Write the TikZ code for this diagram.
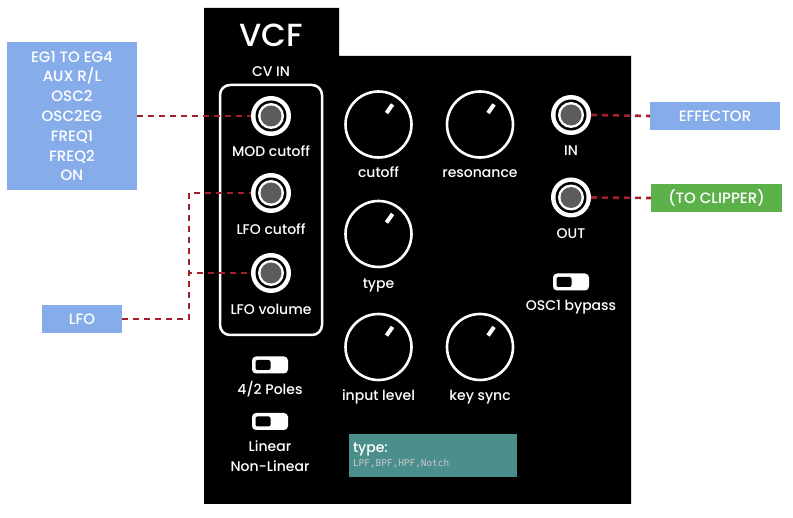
\documentclass[tikz,border=0pt]{standalone}
\usepackage{fontspec}
\setmainfont{Poppins}[UprightFont=* Medium]
\setmonofont{DejaVu Sans Mono}
\usepackage{tikz}
\usetikzlibrary{positioning,calc}
\definecolor{cvblue}{HTML}{86ADEA}
\definecolor{cvgreen}{HTML}{5DB14A}
\definecolor{patchred}{HTML}{A3202F}
\definecolor{jackgray}{HTML}{5C5C5C}
\definecolor{infoteal}{HTML}{4A8F8C}
\definecolor{monogray}{HTML}{C9C9C9}

\begin{document}
\begin{tikzpicture}[
  x=1pt, y=-1pt,
  every node/.style={font=\fontsize{14}{16}\selectfont, text=white, outer sep=0pt},
  lbl/.style={inner sep=0pt, text height=10pt, text depth=3pt},
  jack/.style={circle, fill=white, minimum size=40pt, inner sep=0pt,
    path picture={
      \fill[black] (path picture bounding box.center) circle (15.5pt);
      \fill[white] (path picture bounding box.center) circle (13pt);
      \fill[jackgray] (path picture bounding box.center) circle (10.5pt);}},
  knob/.style={circle, draw=white, line width=2.6pt, minimum size=66pt, inner sep=0pt,
    path picture={\draw[white, line width=4pt] ([shift={(55:14pt)}]path picture bounding box.center) -- ([shift={(55:24.5pt)}]path picture bounding box.center);}},
  switchbox/.style={fill=white, rounded corners=4pt, minimum width=36pt, minimum height=17pt, inner sep=0pt,
    path picture={\fill[black, rounded corners=2pt] ([shift={(3.5pt,-3.5pt)}]path picture bounding box.north west) rectangle ++(15pt,-10pt);}},
  srcbox/.style={fill=#1, align=center, inner sep=0pt, minimum height=28pt, font=\fontsize{15}{19.8}\selectfont},
  patch/.style={draw=patchred, line width=2.6pt, dash pattern=on 6pt off 5pt}
]
\useasboundingbox (0,0) rectangle (793,518);
\fill[black] (204,8) -- (339,8) -- (339,56) -- (631,56) -- (631,504) -- (204,504) -- cycle;
\node[font=\fontsize{32}{35}\selectfont] (title) at (271,35) {VCF};
\node (cvin) at (271,72) {CV IN};
\node[draw=white, line width=2.5pt, rounded corners=10pt, minimum width=102pt, minimum height=250pt] (cvbox) at (271,210) {};

\node[jack] (modjack) at (271,116) {};
\node[lbl, below=11pt of modjack] (modlbl) {MOD cutoff};
\node[jack] (lfocut) at (271,193) {};
\node[lbl, below=12pt of lfocut] (lfocutlbl) {LFO cutoff};
\node[jack] (lfovol) at (271,273) {};
\node[lbl, below=12pt of lfovol] (lfovollbl) {LFO volume};

\node[knob] (cutoff) at (378.5,124.5) {};
\node[lbl, below=10.5pt of cutoff] {cutoff};
\node[knob] (reso) at (480,124.5) {};
\node[lbl, below=10.5pt of reso] {resonance};
\node[knob] (type) at (378.5,234) {};
\node[lbl, below=11.5pt of type] {type};
\node[knob] (inlevel) at (378.5,347) {};
\node[lbl, below=10.5pt of inlevel] {input level};
\node[knob] (keysync) at (480,347) {};
\node[lbl, below=10.5pt of keysync] {key sync};

\node[jack] (injack) at (571,115) {};
\node[lbl, below=10.5pt of injack] {IN};
\node[jack] (outjack) at (571,197.5) {};
\node[lbl, below=11pt of outjack] {OUT};
\node[switchbox] (oscsw) at (571,282) {};
\node[lbl, below=10.5pt of oscsw] {OSC1 bypass};

\node[switchbox] (polesw) at (270,365) {};
\node[lbl, below=11pt of polesw] {4/2 Poles};
\node[switchbox] (linsw) at (270,421.5) {};
\node[inner sep=0pt, below=11pt of linsw, align=center, font=\fontsize{14}{19.5}\selectfont] {Linear\\Non-Linear};

\node[fill=infoteal, minimum width=168pt, minimum height=43pt, text width=160pt, inner sep=4pt, align=left,
  font=\fontsize{14}{16.5}\selectfont] (typebox) at (433,455.5)
  {\raisebox{-3pt}{type:}\\{\ttfamily\fontsize{9.4}{10}\selectfont\color{monogray}LPF,BPF,HPF,Notch}};

\node[srcbox=cvblue, minimum width=130pt, minimum height=148pt] (egbox) at (72,116)
  {EG1 TO EG4\\AUX R/L\\OSC2\\OSC2EG\\FREQ1\\FREQ2\\ON};
\node[srcbox=cvblue, minimum width=80pt] (lfobox) at (82,319) {LFO};
\node[srcbox=cvblue, minimum width=130pt] (effbox) at (715,116) {EFFECTOR};
\node[srcbox=cvgreen, minimum width=131pt] (clipbox) at (716.5,198) {(TO CLIPPER)};

\foreach \a/\b in {egbox.east/modjack.west, injack.east/effbox.west, outjack.east/clipbox.west}{\draw[patch] (\a) -- (\b);}
\foreach \j in {lfocut, lfovol}{\draw[patch] (lfobox.east) -- ++(67,0) |- (\j.west);}
\end{tikzpicture}
\end{document}
